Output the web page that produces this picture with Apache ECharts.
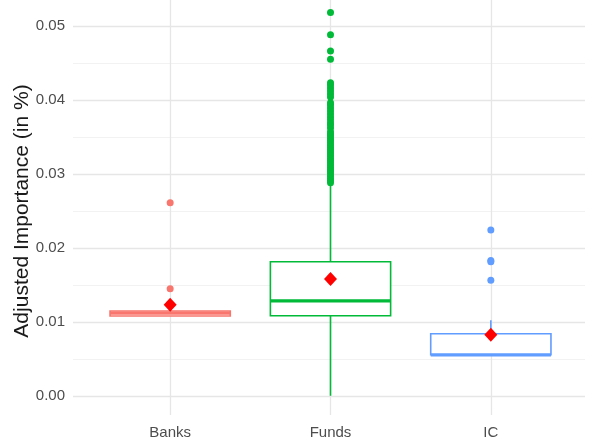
<!DOCTYPE html>
<html>
<head>
<meta charset="utf-8">
<script src="https://cdn.jsdelivr.net/npm/echarts@6/dist/echarts.min.js"></script>
<style>html,body{margin:0;padding:0;background:#fff;}#c{width:593px;height:445px;}</style>
</head>
<body>
<div id="c"></div>
<script>
const categories = ['Banks', 'Funds', 'IC'];
const colors = ['#F8766D', '#00BA38', '#619CFF'];
// [whiskerLow, Q1, median, Q3, whiskerHigh]
const boxStats = [
  [0.0108, 0.01078, 0.01117, 0.01145, 0.0114],
  [0.0000, 0.01081, 0.01284, 0.01811, 0.0288],
  [0.0054, 0.00554, 0.00554, 0.00838, 0.0102]
];
const means = [0.0123, 0.0158, 0.00824];
const banksOutliers = [0.0261, 0.01446];
const fundsOutliers = [0.0288, 0.0291, 0.0294, 0.0297, 0.0300, 0.0303, 0.0306, 0.0309, 0.0312, 0.0315,
  0.0318, 0.0321, 0.0324, 0.0327, 0.0330, 0.0333, 0.0336, 0.0339, 0.0342, 0.0345, 0.0348, 0.0351,
  0.0354, 0.0357, 0.0362, 0.0366, 0.0369, 0.0373, 0.0377, 0.0381, 0.0385, 0.0389, 0.0393, 0.0396,
  0.0404, 0.0408, 0.0412, 0.0416, 0.0420, 0.0423, 0.0455, 0.0466, 0.0488, 0.0518];
const icOutliers = [0.0224, 0.0183, 0.0181, 0.0156];
const yTicks = [0, 0.01, 0.02, 0.03, 0.04, 0.05];

const outlierSets = [banksOutliers, fundsOutliers, icOutliers];
const chart = echarts.init(document.getElementById('c'));
const font = '"Liberation Sans", Arial, sans-serif';

const outlierSeries = outlierSets.map((arr, i) => ({
  type: 'scatter', xAxisIndex: 0, yAxisIndex: 0,
  symbol: 'circle', symbolSize: 7,
  itemStyle: { color: colors[i], opacity: 1 },
  data: arr.map(v => [i, v]),
  z: 3, silent: true
}));

chart.setOption({
  animation: false,
  grid: [
    { left: 90, right: 22, top: 0, bottom: 30 },
    { left: 73, right: 8, top: 26, bottom: 49 }
  ],
  xAxis: [
    { type: 'category', gridIndex: 0, data: categories,
      axisLine: { show: false }, axisTick: { show: false },
      axisLabel: { color: '#4d4d4d', fontSize: 15, fontFamily: font, margin: 10 },
      splitLine: { show: true, alignWithLabel: true, lineStyle: { color: '#e6e6e6', width: 1.3 } } },
    { type: 'value', gridIndex: 1, show: false, min: 0, max: 1 }
  ],
  yAxis: [
    { type: 'value', gridIndex: 0, min: -0.0026, max: 0.0535, show: false, splitLine: { show: false } },
    { type: 'value', gridIndex: 1, min: 0, max: 0.05, interval: 0.01,
      axisLine: { show: false }, axisTick: { show: false },
      axisLabel: { color: '#4d4d4d', fontSize: 15, fontFamily: font, margin: 8,
        formatter: v => v.toFixed(2) },
      splitLine: { show: true, lineStyle: { color: '#e6e6e6', width: 1.3 } },
      minorTick: { show: false, splitNumber: 2 },
      minorSplitLine: { show: true, lineStyle: { color: '#f2f2f2', width: 1 } },
      name: 'Adjusted Importance (in %)', nameLocation: 'middle', nameGap: 40,
      nameMoveOverlap: false,
      nameTextStyle: { color: '#1a1a1a', fontSize: 21, fontFamily: font } }
  ],
  series: [
    {
      type: 'custom', xAxisIndex: 0, yAxisIndex: 0, z: 2, silent: true,
      data: boxStats.map((s, i) => [i].concat(s)),
      renderItem: function (params, api) {
        const idx = api.value(0);
        const band = api.size([1, 0])[0];
        const half = band * 0.375;
        const pLow = api.coord([idx, api.value(1)]);
        const pQ1 = api.coord([idx, api.value(2)]);
        const pMed = api.coord([idx, api.value(3)]);
        const pQ3 = api.coord([idx, api.value(4)]);
        const pHigh = api.coord([idx, api.value(5)]);
        const x = pQ1[0];
        const c = colors[idx];
        return {
          type: 'group',
          children: [
            { type: 'line', shape: { x1: x, y1: pLow[1], x2: x, y2: pQ1[1] }, style: { stroke: c, lineWidth: 1.6 } },
            { type: 'line', shape: { x1: x, y1: pQ3[1], x2: x, y2: pHigh[1] }, style: { stroke: c, lineWidth: 1.6 } },
            { type: 'rect', shape: { x: x - half, y: pQ3[1], width: half * 2, height: pQ1[1] - pQ3[1] },
              style: { fill: '#ffffff', stroke: c, lineWidth: 1.6 } },
            { type: 'line', shape: { x1: x - half, y1: pMed[1], x2: x + half, y2: pMed[1] }, style: { stroke: c, lineWidth: 3.2 } }
          ]
        };
      }
    }
  ].concat(outlierSeries).concat([
    {
      type: 'scatter', xAxisIndex: 0, yAxisIndex: 0, z: 4, silent: true,
      symbol: 'diamond', symbolSize: [13, 14],
      itemStyle: { color: '#ff0000', opacity: 1 },
      data: means.map((v, i) => [i, v])
    }
  ])
});
</script>
</body>
</html>
